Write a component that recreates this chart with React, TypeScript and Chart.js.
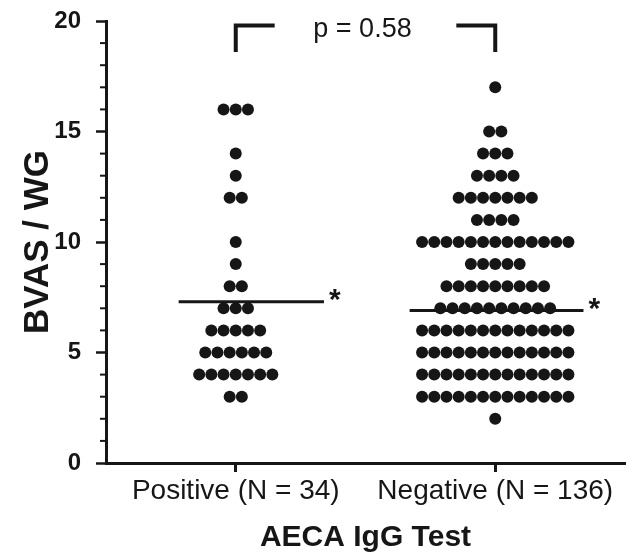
import { useEffect, useRef } from 'react';
import { Chart, registerables } from 'chart.js';

Chart.register(...registerables);

const groups = ['Positive (N = 34)', 'Negative (N = 136)'];
const positiveLevels = [16, 14, 13, 12, 10, 9, 8, 7, 6, 5, 4, 3];
const positiveCounts = [3, 1, 1, 2, 1, 1, 2, 3, 5, 6, 7, 2];
const negativeLevels = [17, 15, 14, 13, 12, 11, 10, 9, 8, 7, 6, 5, 4, 3, 2];
const negativeCounts = [1, 2, 3, 4, 7, 4, 13, 5, 9, 10, 13, 13, 13, 13, 1];
const groupMeans = [7.3, 6.9];
const meanExtents = [[-0.22, 0.34], [-0.33, 0.34]];
const yMin = 0;
const yMax = 20;
const yMajorStep = 5;
const yMinorStep = 1;
const pText = 'p = 0.58';
const bracketTop = 19.8;
const bracketBottom = 18.6;
const bracketArm = 0.15;
const xTitle = 'AECA IgG Test';
const yTitle = 'BVAS / WG';

const ink = '#161616';
const FONT = "'Liberation Sans', Arial, Helvetica, sans-serif";
const dotPitch = 0.047;

function swarm(levels: number[], counts: number[], gi: number) {
  const pts: { x: number; y: number }[] = [];
  levels.forEach((lv, k) => {
    const n = counts[k];
    for (let i = 0; i < n; i++) {
      pts.push({ x: gi + (i - (n - 1) / 2) * dotPitch, y: lv });
    }
  });
  return pts;
}

const overlay = {
  id: 'overlay',
  afterDraw(chart: any) {
    const { ctx, chartArea } = chart;
    const x = chart.scales.x;
    const y = chart.scales.y;
    ctx.save();
    ctx.strokeStyle = ink;
    ctx.lineWidth = 2;
    for (let v = yMin; v <= yMax; v += yMinorStep) {
      if (v % yMajorStep === 0) continue;
      const py = y.getPixelForValue(v);
      ctx.beginPath();
      ctx.moveTo(chartArea.left - 6, py);
      ctx.lineTo(chartArea.left, py);
      ctx.stroke();
    }
    ctx.fillStyle = ink;
    ctx.font = `27px ${FONT}`;
    ctx.textAlign = 'center';
    ctx.textBaseline = 'middle';
    ctx.fillText(pText, x.getPixelForValue(0.5) - 3, y.getPixelForValue(19.6));
    ctx.font = `bold 30px ${FONT}`;
    ctx.textAlign = 'left';
    groupMeans.forEach((m, gi) => {
      const px = x.getPixelForValue(gi + meanExtents[gi][1]);
      const py = y.getPixelForValue(m);
      ctx.fillText('*', px + 5, py - 1);
    });
    ctx.restore();
  },
};

export default function App() {
  const ref = useRef<HTMLCanvasElement | null>(null);
  useEffect(() => {
    document.body.style.margin = '0';
    const canvas = ref.current;
    if (!canvas) return;
    const datasets: any[] = [
      {
        data: [...swarm(positiveLevels, positiveCounts, 0), ...swarm(negativeLevels, negativeCounts, 1)],
        backgroundColor: ink,
        borderColor: ink,
        pointRadius: 6,
        pointBorderWidth: 0,
        showLine: false,
      },
    ];
    groupMeans.forEach((m, gi) => {
      datasets.push({
        data: [
          { x: gi + meanExtents[gi][0], y: m },
          { x: gi + meanExtents[gi][1], y: m },
        ],
        showLine: true,
        borderColor: ink,
        borderWidth: 3,
        pointRadius: 0,
      });
    });
    datasets.push({
      data: [
        { x: 0, y: bracketBottom },
        { x: 0, y: bracketTop },
        { x: bracketArm, y: bracketTop },
      ],
      showLine: true,
      borderColor: ink,
      borderWidth: 4,
      pointRadius: 0,
      borderJoinStyle: 'miter',
    });
    datasets.push({
      data: [
        { x: 1 - bracketArm, y: bracketTop },
        { x: 1, y: bracketTop },
        { x: 1, y: bracketBottom },
      ],
      showLine: true,
      borderColor: ink,
      borderWidth: 4,
      pointRadius: 0,
      borderJoinStyle: 'miter',
    });

    const chart = new Chart(canvas, {
      type: 'scatter',
      data: { datasets },
      options: {
        animation: false,
        responsive: false,
        devicePixelRatio: 1,
        layout: { padding: { top: 21, right: 7, left: 0, bottom: 0 } },
        plugins: { legend: { display: false }, tooltip: { enabled: false } },
        scales: {
          x: {
            type: 'linear',
            min: -0.5,
            max: 1.5,
            afterFit: (s: any) => {
              s.height = 94;
              s.paddingLeft = 0;
              s.paddingRight = 0;
            },
            afterBuildTicks: (s: any) => {
              s.ticks = groups.map((_, i) => ({ value: i }));
            },
            ticks: {
              callback: (v: any) => groups[Math.round(Number(v))] ?? '',
              font: { family: FONT, size: 28 },
              color: ink,
              padding: 2,
              maxRotation: 0,
              autoSkip: false,
            },
            grid: {
              drawOnChartArea: false,
              drawTicks: true,
              tickLength: 9,
              tickWidth: 3,
              tickColor: ink,
            },
            border: { display: true, color: ink, width: 3 },
            title: {
              display: true,
              text: xTitle,
              font: { family: FONT, size: 30, weight: 'bold' },
              color: ink,
              padding: { top: 0, bottom: 1 },
            },
          },
          y: {
            min: yMin,
            max: yMax,
            afterFit: (s: any) => {
              s.width = 106;
              s.paddingTop = 0;
              s.paddingBottom = 0;
            },
            ticks: {
              stepSize: yMajorStep,
              font: { family: FONT, size: 24, weight: 'bold' },
              color: ink,
              padding: 15,
            },
            grid: {
              drawOnChartArea: false,
              drawTicks: true,
              tickLength: 10,
              tickWidth: 2.5,
              tickColor: ink,
            },
            border: { display: true, color: ink, width: 3 },
            title: {
              display: true,
              text: yTitle,
              font: { family: FONT, size: 35, weight: 'bold' },
              color: ink,
              padding: { top: 17, bottom: 0 },
            },
          },
        },
      },
      plugins: [overlay],
    });
    return () => chart.destroy();
  }, []);
  return <canvas ref={ref} width={632} height={557} style={{ display: 'block', width: 632, height: 557 }} />;
}
